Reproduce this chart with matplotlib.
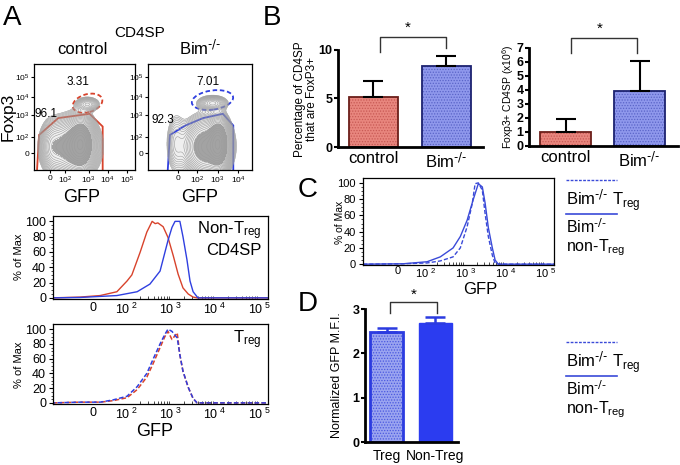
import numpy as np
import matplotlib
matplotlib.use("Agg")
import matplotlib.pyplot as plt
from matplotlib.patches import Ellipse, Polygon

plt.rcParams['font.family'] = ['Liberation Sans', 'DejaVu Sans']
plt.rcParams['mathtext.default'] = 'regular'
plt.rcParams['hatch.linewidth'] = 0.6

W, H = 680, 465

# ---------------- data ----------------
# Panel A contour plots (positions as fractions of the plot box)
contour_xticks_ctrl = [0.16, 0.31, 0.54, 0.73, 0.92]
contour_xticks_bim = [0.29, 0.47, 0.67, 0.87]
contour_yticks = [0.16, 0.31, 0.52, 0.69, 0.88]
contour_xlabels_ctrl = ['0', '$10^2$', '$10^3$', '$10^4$', '$10^5$']
contour_xlabels_bim = ['0', '$10^2$', '$10^3$', '$10^4$']
contour_ylabels = ['0', '$10^2$', '$10^3$', '$10^4$', '$10^5$']
# density blobs: (cx, cy, sx, sy, weight)
blobs_ctrl = [(0.38, 0.22, 0.12, 0.13, 1.0), (0.47, 0.25, 0.06, 0.12, 1.3),
              (0.53, 0.62, 0.06, 0.035, 0.25), (0.18, 0.22, 0.06, 0.12, 0.35)]
blobs_bim = [(0.56, 0.22, 0.11, 0.13, 1.0), (0.68, 0.25, 0.05, 0.12, 1.4),
             (0.62, 0.63, 0.07, 0.035, 0.35), (0.27, 0.25, 0.05, 0.15, 0.15)]
gate_ctrl_x = [0.03, 0.05, 0.24, 0.55, 0.68, 0.68]
gate_ctrl_y = [0.00, 0.33, 0.49, 0.53, 0.41, 0.00]
gate_bim_x = [0.19, 0.21, 0.36, 0.53, 0.72, 0.82, 0.82]
gate_bim_y = [0.00, 0.33, 0.42, 0.49, 0.53, 0.42, 0.00]
treg_gate_ctrl = (0.53, 0.63, 0.30, 0.17, 15)   # cx, cy, w, h, angle
treg_gate_bim = (0.62, 0.66, 0.40, 0.18, 8)
pct_ctrl = ['3.31', '96.1']
pct_bim = ['7.01', '92.3']

# Panel A histograms (x in decade units)
hist_ticks = [1.23, 2, 3, 4, 5]
hist_ticklabels = ['0', '$10^{\\ 2}$', '$10^{\\ 3}$', '$10^{\\ 4}$', '$10^{\\ 5}$']
nt_red_x = [0.32, 0.93, 1.39, 1.77, 2.0, 2.11, 2.30, 2.45, 2.57, 2.64, 2.70, 2.82,
            2.93, 3.05, 3.16, 3.27, 3.39, 3.50, 3.59, 5.2]
nt_red_y = [0, 1, 3, 8, 22, 30, 60, 86, 100, 97, 98, 93, 79, 55, 31, 13, 5, 1, 0, 0]
nt_blue_x = [0.32, 0.93, 1.77, 2.23, 2.52, 2.75, 2.93, 3.02, 3.09, 3.20, 3.27, 3.36,
             3.43, 3.50, 3.61, 5.2]
nt_blue_y = [0, 0.5, 3, 8, 18, 35, 75, 92, 100, 100, 80, 50, 22, 8, 0, 0]
treg_x = [0.32, 0.93, 1.39, 1.68, 2.0, 2.23, 2.45, 2.59, 2.75, 2.86, 2.93, 3.02,
          3.14, 3.20, 3.27, 3.39, 3.50, 3.59, 5.2]
treg_blue_y = [0, 1, 1, 4, 9, 22, 40, 59, 80, 93, 100, 97, 88, 65, 43, 21, 6, 0, 0]
treg_red_y = [0, 1, 1, 3, 7, 18, 35, 53, 75, 90, 97, 86, 95, 65, 43, 21, 6, 0, 0]

# Panel B
groups = ['control', 'Bim$^{\\text{-/-}}$']
pct_foxp3 = [5.2, 8.4]
pct_foxp3_err = [1.6, 1.0]
num_foxp3 = [1.0, 3.9]
num_foxp3_err = [0.95, 2.2]

# Panel C
c_ticks = [1.32, 2, 3, 4, 5]
c_nt_x = [0.45, 1.45, 2.05, 2.38, 2.70, 2.88, 3.05, 3.20, 3.33, 3.43, 3.50, 3.58,
          3.68, 3.75, 3.83, 5.22]
c_nt_y = [0, 0.5, 3, 9, 20, 34, 54, 79, 99, 95, 75, 45, 20, 5, 0, 0]
c_tr_x = [0.45, 1.45, 2.05, 2.38, 2.70, 2.88, 3.05, 3.18, 3.25, 3.33, 3.43, 3.50,
          3.58, 3.68, 3.75, 3.85, 5.22]
c_tr_y = [0, 0.5, 1.5, 4, 9, 20, 46, 75, 99, 100, 91, 62, 34, 11, 1, 0, 0]

# Panel D
d_groups = ['Treg', 'Non-Treg']
mfi = [2.48, 2.68]
mfi_err = [0.09, 0.14]

RED = '#d8432c'
BLUE = '#2f3fe0'
BIM = 'Bim$^{\\text{-/-}}$'


def add_ax(x0, y0, x1, y1):
    return fig.add_axes([x0 / W, 1 - y1 / H, (x1 - x0) / W, (y1 - y0) / H])


def ftext(x, y, s, **kw):
    fig.text(x / W, 1 - y / H, s, **kw)


fig = plt.figure(figsize=(W / 100, H / 100), dpi=100)

# ---------------- Panel A contours ----------------
gx, gy = np.meshgrid(np.linspace(0, 1, 220), np.linspace(0, 1, 220))


def contour_panel(ax, blobs, gxs, gys, color, treg, xt, xl, labels, lpos):
    z = np.zeros_like(gx)
    for cx, cy, sx, sy, w in blobs:
        z += w * np.exp(-((gx - cx) ** 2 / (2 * sx ** 2) + (gy - cy) ** 2 / (2 * sy ** 2)))
    zmax = z.max()
    lv = zmax * np.logspace(-1.75, -0.03, 24)
    ax.contourf(gx, gy, z, levels=[lv[0], zmax * 2], colors=['#efefef'])
    ax.contourf(gx, gy, z, levels=[zmax * 0.3, zmax * 2], colors=['#a3a3a3'])
    ax.contour(gx, gy, z, levels=lv, colors='#9c9c9c', linewidths=0.4)
    ax.add_patch(Polygon(list(zip(gxs, gys)), closed=False, fill=False,
                         edgecolor=color, lw=1.3, clip_on=False))
    cx, cy, w, h, ang = treg
    ax.add_patch(Ellipse((cx, cy), w, h, angle=ang, fill=False, edgecolor=color,
                         lw=1.3, ls=(0, (2.5, 1.5))))
    ax.text(lpos[0][0], lpos[0][1], labels[0], fontsize=8.5, ha='center', va='center')
    ax.text(lpos[1][0], lpos[1][1], labels[1], fontsize=8.5, ha='center', va='center')
    ax.set_xlim(0, 1)
    ax.set_ylim(0, 1)
    ax.set_xticks(xt)
    ax.set_xticklabels(xl, fontsize=6)
    ax.set_yticks(contour_yticks)
    ax.set_yticklabels(contour_ylabels, fontsize=6)
    ax.tick_params(length=2.5, width=0.8, pad=1)
    for s in ax.spines.values():
        s.set_linewidth(0.9)


axc = add_ax(34, 64, 135, 170)
contour_panel(axc, blobs_ctrl, gate_ctrl_x, gate_ctrl_y, RED, treg_gate_ctrl,
              contour_xticks_ctrl, contour_xlabels_ctrl, pct_ctrl,
              [(0.44, 0.83), (0.12, 0.53)])
axb = add_ax(148, 64, 252, 170)
contour_panel(axb, blobs_bim, gate_bim_x, gate_bim_y, BLUE, treg_gate_bim,
              contour_xticks_bim, contour_xlabels_bim, pct_bim,
              [(0.58, 0.83), (0.14, 0.47)])

ftext(12, 18, 'A', fontsize=20, ha='center', va='center')
ftext(140, 33, 'CD4SP', fontsize=11, ha='center', va='center')
ftext(82, 50, 'control', fontsize=12, ha='center', va='center')
ftext(200, 48, BIM, fontsize=12, ha='center', va='center')
ftext(8, 117, 'Foxp3', fontsize=12.5, ha='center', va='center', rotation=90)
ftext(82, 197, 'GFP', fontsize=13, ha='center', va='center')
ftext(200, 197, 'GFP', fontsize=13, ha='center', va='center')


# ---------------- Panel A histograms ----------------
def hist_axes(ax, ticks, ticklabels, xlim, ylim, xfs=9):
    ax.set_xlim(*xlim)
    ax.set_ylim(*ylim)
    ax.set_yticks([0, 20, 40, 60, 80, 100])
    ax.set_yticks(np.arange(0, 101, 5), minor=True)
    ax.set_xticks(ticks)
    ax.set_xticklabels(ticklabels, fontsize=xfs)
    minors = []
    for d in range(2, 5):
        minors += list(d + np.log10(np.arange(2, 10)))
    ax.set_xticks(minors, minor=True)
    ax.tick_params(axis='y', labelsize=9, length=3, width=0.8, pad=2)
    ax.tick_params(axis='x', length=0, pad=2)
    ax.tick_params(axis='x', which='minor', length=2, width=0.5, direction='in')
    ax.tick_params(axis='y', which='minor', length=1.5, width=0.5)
    for s in ax.spines.values():
        s.set_linewidth(0.9)


ah1 = add_ax(53, 216, 268, 299)
ah1.plot(nt_red_x, nt_red_y, color=RED, lw=1.0)
ah1.plot(nt_blue_x, nt_blue_y, color=BLUE, lw=1.0)
hist_axes(ah1, hist_ticks, hist_ticklabels, (0.32, 5.2), (-1.5, 107))
ah1.text(0.97, 0.82, 'Non-T$_{reg}$', transform=ah1.transAxes, fontsize=12,
         ha='right', va='center')
ah1.text(0.97, 0.58, 'CD4SP', transform=ah1.transAxes, fontsize=12,
         ha='right', va='center')
ftext(19, 257, '% of Max', fontsize=8, ha='center', va='center', rotation=90)

ah2 = add_ax(53, 324, 268, 404)
ah2.plot(treg_x, treg_red_y, color=RED, lw=1.1, ls=(0, (3, 1.5)))
ah2.plot(treg_x, treg_blue_y, color=BLUE, lw=1.1, ls=(1.5, (3, 1.5)))
hist_axes(ah2, hist_ticks, hist_ticklabels, (0.32, 5.2), (-1.5, 107))
ah2.text(0.97, 0.80, 'T$_{reg}$', transform=ah2.transAxes, fontsize=12,
         ha='right', va='center')
ftext(19, 365, '% of Max', fontsize=8, ha='center', va='center', rotation=90)
ftext(155, 431, 'GFP', fontsize=13, ha='center', va='center')


# ---------------- Panel B ----------------
def bar_style(ax, xs, vals, errs, face, hatchc, edge, width, errc='black'):
    ax.bar(xs, vals, width=width, color=face, edgecolor=hatchc, hatch='......', lw=0)
    ax.bar(xs, vals, width=width, facecolor='none', edgecolor=edge, lw=1.3)
    ax.errorbar(xs, vals, yerr=[[0] * len(errs), errs], fmt='none', ecolor=errc,
                elinewidth=1.5, capsize=7, capthick=1.5)


def bar_axes(ax):
    for s in ['top', 'right']:
        ax.spines[s].set_visible(False)
    for s in ['left', 'bottom']:
        ax.spines[s].set_linewidth(2)
    ax.tick_params(axis='y', length=3, width=1.5, pad=1, labelsize=9)
    ax.tick_params(axis='x', length=0, pad=3)
    for lab in ax.get_yticklabels():
        lab.set_fontweight('bold')


axB1 = add_ax(338, 50, 483, 147)
bar_style(axB1, [0, 1], pct_foxp3, pct_foxp3_err, ['#e8867e', '#8f98ec'],
          ['#c85a55', '#5a64c8'], ['#6b1f1a', '#1c2270'], 0.67)
axB1.set_xlim(-0.486, 1.5)
axB1.set_ylim(0, 10)
axB1.set_yticks([0, 5, 10])
axB1.set_xticks([0, 1])
axB1.set_xticklabels(groups, fontsize=12)
bar_axes(axB1)
axB1.plot([0.09, 0.09, 0.99, 0.99], [9.8, 11.34, 11.34, 10.2], color='#333333',
          lw=1.0, clip_on=False)
axB1.text(0.47, 12.3, '*', fontsize=11, ha='center', va='center')
ftext(306, 99, 'Percentage of CD4SP\nthat are FoxP3+', fontsize=8.5, ha='center',
      va='center', rotation=90, linespacing=1.05)

axB2 = add_ax(529, 48, 678, 146)
bar_style(axB2, [0, 1], num_foxp3, num_foxp3_err, ['#e8867e', '#8f98ec'],
          ['#c85a55', '#5a64c8'], ['#6b1f1a', '#1c2270'], 0.69)
axB2.set_xlim(-0.497, 1.52)
axB2.set_ylim(0, 7)
axB2.set_yticks(range(0, 8))
axB2.set_xticks([0, 1])
axB2.set_xticklabels(groups, fontsize=12)
bar_axes(axB2)
axB2.plot([0.075, 0.075, 0.97, 0.97], [6.64, 7.71, 7.71, 6.64], color='#333333',
          lw=1.0, clip_on=False)
axB2.text(0.456, 8.4, '*', fontsize=11, ha='center', va='center')
ftext(508, 97, 'Foxp3+ CD4SP (x10$^6$)', fontsize=7.5, ha='center', va='center',
      rotation=90)
ftext(272, 18, 'B', fontsize=20, ha='center', va='center')

# ---------------- Panel C ----------------
axC = add_ax(363, 178, 554, 265)
axC.plot(c_nt_x, c_nt_y, color='#3a4ad8', lw=1.0)
axC.plot(c_tr_x, c_tr_y, color='#3a4ad8', lw=1.0, ls=(0, (3, 1.5)))
hist_axes(axC, c_ticks, hist_ticklabels, (0.45, 5.22), (-1, 106), xfs=8)
axC.set_yticklabels(['0', '20', '40', '60', '80', '100'], fontsize=8)
axC.tick_params(axis='x', pad=1)
ftext(340, 222, '% of Max', fontsize=7.5, ha='center', va='center', rotation=90)
ftext(480, 289, 'GFP', fontsize=12, ha='center', va='center')
ftext(308, 190, 'C', fontsize=20, ha='center', va='center')

# legends C and D
for y0 in [180, 342]:
    fig.add_artist(plt.Line2D([566 / W, 617 / W], [1 - y0 / H, 1 - y0 / H],
                              color='#3a4ad8', lw=1.0, ls=(0, (2, 1))))
    ftext(566, y0 + 20, BIM + ' T$_{reg}$', fontsize=12, ha='left', va='center')
    fig.add_artist(plt.Line2D([566 / W, 617 / W], [1 - (y0 + 34) / H, 1 - (y0 + 34) / H],
                              color='#3a4ad8', lw=1.2))
    ftext(566, y0 + 47, BIM, fontsize=11.5, ha='left', va='center')
    ftext(566, y0 + 68, 'non-T$_{reg}$', fontsize=11.5, ha='left', va='center')

# ---------------- Panel D ----------------
axD = add_ax(365, 309, 458, 442)
axD.bar([0], [mfi[0]], width=0.68, color='#9aa4f0', edgecolor='#4a58e0',
        hatch='......', lw=0)
axD.bar([0], [mfi[0]], width=0.68, facecolor='none', edgecolor='#2b3be0', lw=2)
axD.bar([1], [mfi[1]], width=0.68, color='#2b3cf0', edgecolor='#2b3cf0', lw=1)
axD.errorbar([0, 1], mfi, yerr=[[0, 0], mfi_err], fmt='none', ecolor='#2b3be0',
             elinewidth=1.8, capsize=7, capthick=1.8)
axD.set_xlim(-0.443, 1.47)
axD.set_ylim(0, 3)
axD.set_yticks([0, 1, 2, 3])
axD.set_xticks([0, 1])
axD.set_xticklabels(d_groups, fontsize=10)
bar_axes(axD)
axD.tick_params(axis='x', pad=5)
axD.plot([0.07, 0.07, 1.04, 1.04], [2.91, 3.16, 3.16, 2.91], color='#333333',
         lw=1.0, clip_on=False)
axD.text(0.55, 3.31, '*', fontsize=11, ha='center', va='center')
ftext(337, 375, 'Normalized GFP M.F.I.', fontsize=9, ha='center', va='center',
      rotation=90)
ftext(308, 304, 'D', fontsize=20, ha='center', va='center')

fig.savefig('out.png', dpi=100)
